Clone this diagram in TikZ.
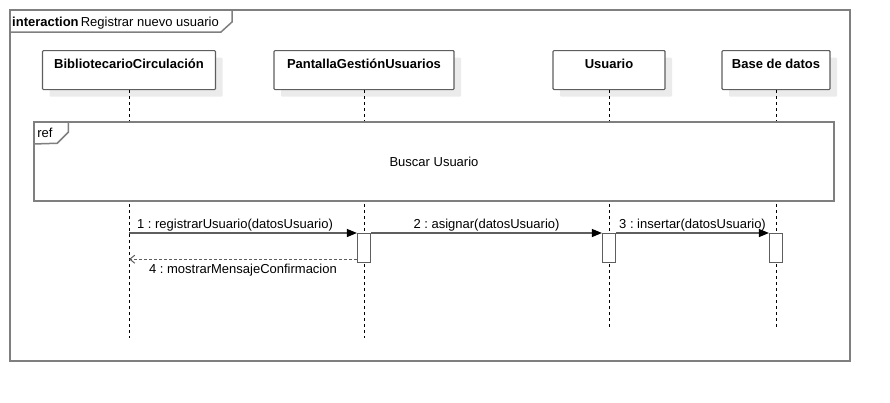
\documentclass[tikz,border=0pt]{standalone}
\usepackage{fontspec}
\setmainfont{Liberation Sans}
\usetikzlibrary{arrows.meta,shadows}
\frenchspacing
\definecolor{ink}{HTML}{000000}
\definecolor{frame}{HTML}{7F7F7F}
\definecolor{edge}{HTML}{5E5E5E}
\definecolor{shade}{HTML}{EBEBEB}
\tikzset{
  headbox/.style={draw=edge,fill=white,line width=1.2pt,rounded corners=1pt,inner sep=0pt,
    text height=18pt,text depth=21pt,font=\fontsize{13}{15}\selectfont\bfseries,anchor=north,
    drop shadow={shadow xshift=7pt,shadow yshift=-7pt,fill=shade,opacity=1}},
  actbox/.style={draw=edge,fill=white,line width=1.2pt,minimum width=13pt,minimum height=29pt,inner sep=0pt,anchor=north},
  framebox/.style={draw=frame,line width=1.5pt},
  lifeline/.style={draw=ink,line width=0.8pt,dash pattern=on 3pt off 3pt},
  msg/.style={draw=edge,line width=1.2pt,-{Triangle[length=10pt,width=8pt,color=ink]}},
  ret/.style={draw=edge,line width=1pt,dash pattern=on 3pt off 2pt,-{Straight Barb[length=5pt,width=8pt]}},
  lbl/.style={font=\fontsize{13}{15}\selectfont,inner sep=1.5pt}
}
\begin{document}
\begin{tikzpicture}[x=1pt,y=-1pt]
  \useasboundingbox (0,0) rectangle (890,402);

  % outer interaction frame
  \draw[framebox] (10,10) rectangle (850,361);
  \draw[framebox] (232,10) -- (232,22) -- (221,32) -- (10,32);
  \node[lbl,anchor=base west,inner sep=0pt] (title) at (12,26) {\textbf{interaction}\,Registrar nuevo usuario};

  % lifeline heads
  \node[headbox,minimum width=173pt] (bib) at (129,50) {BibliotecarioCirculación};
  \node[headbox,minimum width=180pt] (pantalla) at (364,50) {PantallaGestiónUsuarios};
  \node[headbox,minimum width=112pt] (usuario) at (609,50) {Usuario};
  \node[headbox,minimum width=108pt] (bd) at (776,50) {Base de datos};

  \coordinate (bibEnd) at (bib.south |- 0,338);
  \coordinate (pantallaEnd) at (pantalla.south |- 0,338);
  \coordinate (usuarioEnd) at (usuario.south |- 0,327);
  \coordinate (bdEnd) at (bd.south |- 0,327);
  \foreach \who in {bib,pantalla,usuario,bd}
    \draw[lifeline] (\who.south) -- (\who End);

  % ref fragment
  \node[framebox,fill=white,lbl,minimum width=800pt,minimum height=79pt] (buscar) at (434,161.5) {Buscar Usuario};
  \draw[framebox] (buscar.north west) ++(35,0) -- ++(0,11) -- ++(-11,11) -- (buscar.west |- 0,144);
  \node[lbl] (refTag) at (45,133) {ref};

  % activations
  \node[actbox] (actP) at (364,233) {};
  \node[actbox] (actU) at (609,233) {};
  \node[actbox] (actB) at (776,233) {};

  % messages
  \draw[msg] (bib |- actP.north) -- node[lbl,above,pos=0.465] {1 : registrarUsuario(datosUsuario)} (actP.north west);
  \draw[msg] (actP.north east) -- node[lbl,above] {2 : asignar(datosUsuario)} (actU.north west);
  \draw[msg] (actU.north east) -- node[lbl,above] {3 : insertar(datosUsuario)} (actB.north west);
  \coordinate (retStart) at ([yshift=4pt]actP.south west);
  \draw[ret] (retStart) -- node[lbl,below=3pt] {4 : mostrarMensajeConfirmacion} (bib |- retStart);
\end{tikzpicture}
\end{document}
